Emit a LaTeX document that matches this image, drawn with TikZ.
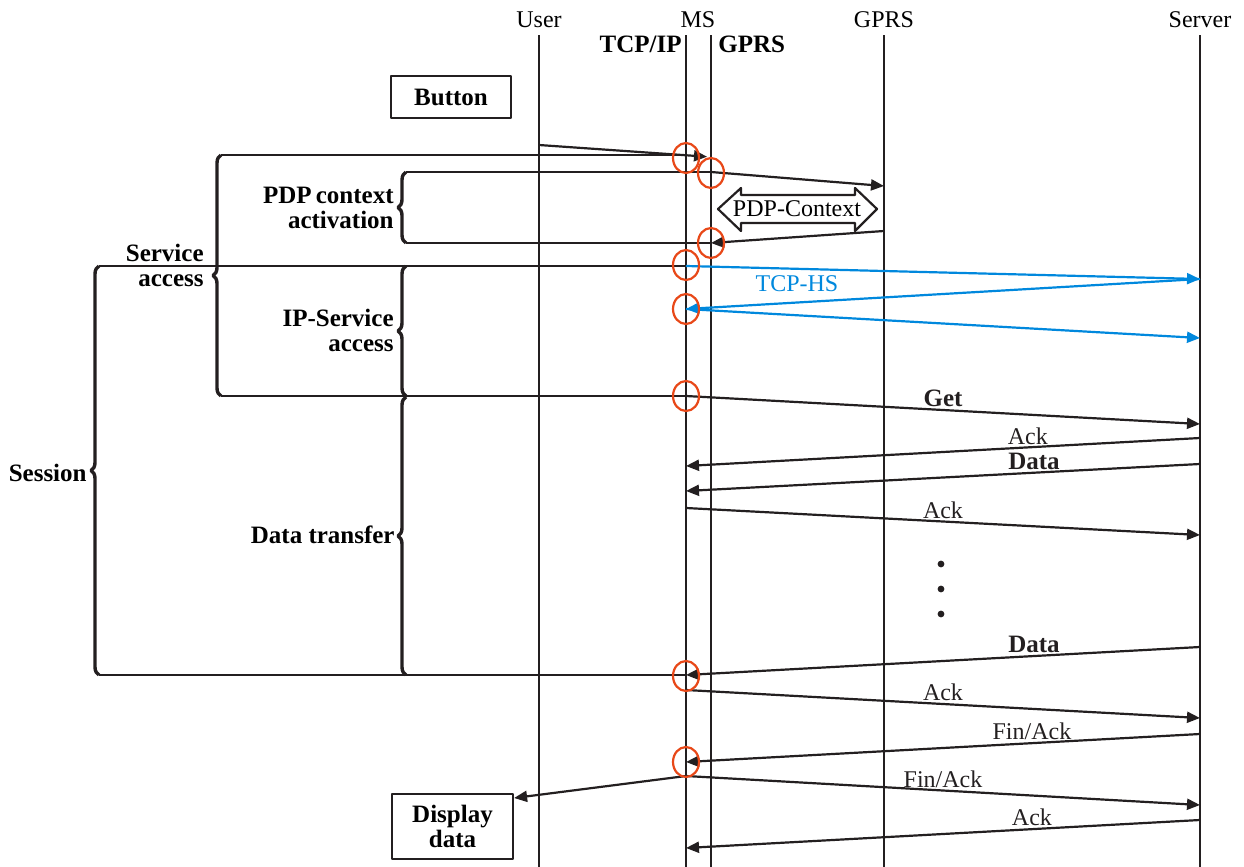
\documentclass[tikz,border=0pt]{standalone}
\usepackage{fontspec}
\setmainfont{Liberation Serif}
\usetikzlibrary{arrows.meta,decorations.pathreplacing}
\definecolor{ink}{RGB}{35,31,32}
\definecolor{hsblue}{RGB}{0,136,221}
\definecolor{hitred}{RGB}{232,72,24}
\newcommand{\heavy}{\fontsize{12.5}{12.5}\selectfont\bfseries}
\tikzset{
	life/.style={ink, line width=1pt},
	msg/.style={ink, line width=1.1pt, ->},
	tcphs/.style={hsblue, line width=1.1pt, ->},
	lane/.style={ink, line width=1.1pt},
	grp/.style={ink, line width=1.7pt, decorate, decoration={brace, amplitude=4pt}},
	hit/.style={hitred, line width=1.1pt},
	box/.style={draw=ink, line width=1.1pt, font=\heavy, align=center, inner sep=1pt},
	lbl/.style={font=\heavy, align=right, anchor=east, inner sep=1pt},
	tag/.style={above, inner sep=1pt}
}
\begin{document}
\begin{tikzpicture}[x=.5pt, y=-.5pt, font=\fontsize{12}{13}\selectfont, line join=round, >={Triangle[length=6.5pt,width=5.5pt]}]
		\useasboundingbox (0,0) rectangle (1244,867);
		\foreach \n/\x in {usr/539, tcp/686, llc/711, sgsn/884, srv/1200} {
			\coordinate (\n) at (\x,35);
			\coordinate (\n-end) at (\x,867);
			\draw[life] (\n) -- (\n-end);
		}
		\node (user) at (539,20) {User};
		\node (ms) at (698,20) {MS};
		\node (gprs) at (884,20) {GPRS};
		\node (server) at (1200,20) {Server};
		\node[font=\heavy, anchor=east, inner sep=1pt] (tcpip) at (684,44) {TCP/IP};
		\node[font=\heavy, anchor=west, inner sep=1pt] (gprsl) at (716,44) {GPRS};
		\node[box, minimum width=60pt, minimum height=21pt] (button) at (451,97) {Button};
		\node[box, minimum width=60.5pt, minimum height=32.5pt] (disp) at (452.5,826.5) {Display\\data};
		\coordinate (sa-t) at (221,155);
		\coordinate (sa-b) at (221,396);
		\coordinate (pdp-t) at (406,172);
		\coordinate (pdp-b) at (406,243);
		\coordinate (ses-t) at (99,266);
		\coordinate (ses-b) at (99,675);
		\coordinate (ip-t) at (406,266);
		\coordinate (ip-b) at (406,396);
		\coordinate (dt-t) at (406,397);
		\coordinate (dt-b) at (406,675);
		\draw[grp] (sa-b) -- (sa-t);
		\draw[grp] (pdp-b) -- (pdp-t);
		\draw[grp] (ses-b) -- (ses-t);
		\draw[grp] (ip-b) -- (ip-t);
		\draw[grp] (dt-b) -- (dt-t);
		\draw[lane] (sa-t) -- (tcp |- sa-t);
		\draw[lane] (pdp-t) -- (llc |- pdp-t);
		\draw[lane] (pdp-b) -- (llc |- pdp-b);
		\draw[lane] (ses-t) -- (tcp |- ses-t);
		\draw[lane] (sa-b) -- (tcp |- sa-b);
		\draw[lane] (ses-b) -- (tcp |- ses-b);
		\node[lbl] (sa-lbl) at (206,265) {Service\\access};
		\node[lbl] (pdp-lbl) at (396,208) {PDP\,context\\activation};
		\node[lbl] (ip-lbl) at (396,330) {IP-Service\\access};
		\node[lbl] (ses-lbl) at (89,473) {Session};
		\node[lbl] (dt-lbl) at (397,535) {Data transfer};
		\draw[msg, shorten >=2pt] (usr |- 0,145) -- (llc |- 0,157);
		\draw[msg] (llc |- 0,172) -- (sgsn |- 0,186);
		\draw[msg] (sgsn |- 0,231) -- (llc |- 0,243);
		\node (pdp) at (797,209) {PDP-Context};
		\draw[ink, line width=1.1pt] (718,209) -- (741,188) -- (741,195) -- (855,195) -- (855,188) -- (877,209) -- (855,231) -- (855,223) -- (741,223) -- (741,231) -- cycle;
		\draw[tcphs] (tcp |- 0,266) -- (srv |- 0,279);
		\draw[tcphs] (srv |- 0,279) -- (tcp |- 0,309);
		\draw[tcphs] (tcp |- 0,309) -- (srv |- 0,338);
		\node[hsblue] (hs) at (797,284) {TCP-HS};
		\draw[msg] (tcp |- 0,396) -- node[tag, pos=.5, font=\heavy] {Get} (srv |- 0,424);
		\draw[msg] (srv |- 0,438) -- node[tag, pos=.335] {Ack} (tcp |- 0,466);
		\draw[msg] (srv |- 0,464) -- node[tag, pos=.323, font=\heavy] {Data} (tcp |- 0,491);
		\draw[msg] (tcp |- 0,508) -- node[tag, pos=.5] {Ack} (srv |- 0,535);
		\fill[ink] (941,564) circle (1.7pt) (941,589) circle (1.7pt) (941,614) circle (1.7pt);
		\draw[msg] (srv |- 0,647) -- node[tag, pos=.323, font=\heavy] {Data} (tcp |- 0,675);
		\draw[msg] (tcp |- 0,690) -- node[tag, pos=.5] {Ack} (srv |- 0,718);
		\draw[msg] (srv |- 0,734) -- node[tag, pos=.327] {Fin/Ack} (tcp |- 0,762);
		\draw[msg] (tcp |- 0,776) -- node[tag, pos=.5] {Fin/Ack} (srv |- 0,805);
		\draw[msg] (tcp |- 0,776) -- (disp.east |- 0,798);
		\draw[msg] (srv |- 0,820) -- node[tag, pos=.327] {Ack} (tcp |- 0,848);
		\draw[hit] (tcp |- 0,158) ellipse (13 and 15);
		\draw[hit] (llc |- 0,173) ellipse (13 and 15);
		\draw[hit] (llc |- 0,243) ellipse (13 and 15);
		\draw[hit] (tcp |- 0,265) ellipse (13 and 15);
		\draw[hit] (tcp |- 0,309) ellipse (13 and 15);
		\draw[hit] (tcp |- 0,396) ellipse (13 and 15);
		\draw[hit] (tcp |- 0,676) ellipse (13 and 15);
		\draw[hit] (tcp |- 0,762) ellipse (13 and 15);
	\end{tikzpicture}
\end{document}
